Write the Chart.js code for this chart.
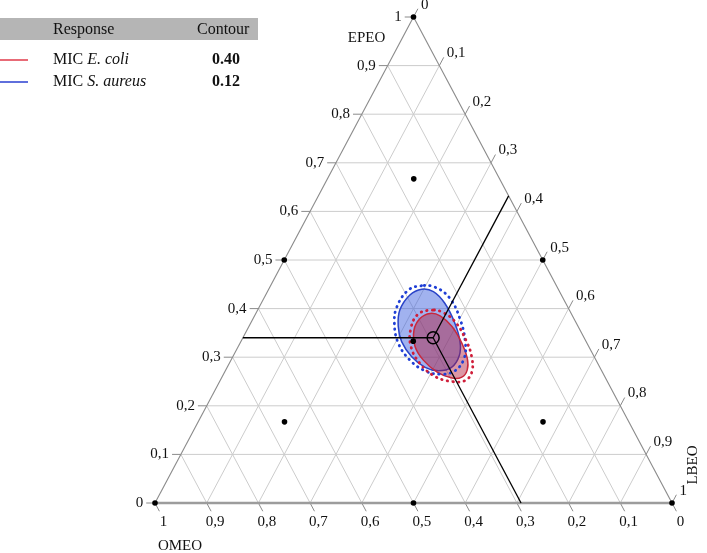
<!DOCTYPE html>
<html>
<head>
<meta charset="utf-8">
<script src="https://cdn.jsdelivr.net/npm/chart.js@4.4.1/dist/chart.umd.min.js"></script>
<style>
html,body{margin:0;padding:0;background:#fff;}
canvas{display:block;}
</style>
</head>
<body>
<canvas id="c" width="707" height="553"></canvas>
<script>
// ---------- DATA ----------
const tickValues = [0, 0.1, 0.2, 0.3, 0.4, 0.5, 0.6, 0.7, 0.8, 0.9, 1];
const tickLabels = ['0', '0,1', '0,2', '0,3', '0,4', '0,5', '0,6', '0,7', '0,8', '0,9', '1'];
const axisTitles = { OMEO: 'OMEO', EPEO: 'EPEO', LBEO: 'LBEO' };

// simplex-centroid design points (fractions of each component)
const designOMEO = [1, 0, 0, 0.5, 0.5, 0, 0.667, 0.167, 0.167, 0.333];
const designEPEO = [0, 1, 0, 0.5, 0, 0.5, 0.167, 0.667, 0.167, 0.333];
const designLBEO = [0, 0, 1, 0, 0.5, 0.5, 0.167, 0.167, 0.667, 0.333];

// optimum mixture
const optimumOMEO = [0.292];
const optimumEPEO = [0.340];
const optimumLBEO = [0.368];

// legend table
const responseNames = [['MIC ', 'E. coli'], ['MIC ', 'S. aureus']];
const contourLevels = ['0.40', '0.12'];

// contour boundaries, as [EPEO, LBEO]
const ecoliContour = [
  [0.390, 0.337], [0.380, 0.323], [0.356, 0.323], [0.322, 0.342], [0.294, 0.372],
  [0.270, 0.410], [0.257, 0.446], [0.259, 0.464], [0.274, 0.467], [0.298, 0.455],
  [0.329, 0.429], [0.363, 0.393], [0.385, 0.359]
];
const ecoliBand = [
  [0.397, 0.339], [0.389, 0.315], [0.360, 0.315], [0.322, 0.334], [0.287, 0.369],
  [0.260, 0.412], [0.250, 0.449], [0.252, 0.474], [0.270, 0.478], [0.301, 0.462],
  [0.335, 0.434], [0.373, 0.394], [0.392, 0.361]
];
const aureusContour = [
  [0.440, 0.296], [0.428, 0.279], [0.397, 0.275], [0.363, 0.289], [0.332, 0.311],
  [0.301, 0.346], [0.279, 0.383], [0.272, 0.412], [0.279, 0.434], [0.303, 0.437],
  [0.332, 0.424], [0.370, 0.395], [0.411, 0.355], [0.435, 0.321]
];
const aureusBand = [
  [0.447, 0.292], [0.438, 0.271], [0.404, 0.266], [0.370, 0.278], [0.329, 0.306],
  [0.294, 0.346], [0.272, 0.386], [0.265, 0.419], [0.272, 0.444], [0.298, 0.449],
  [0.332, 0.434], [0.377, 0.402], [0.421, 0.360], [0.444, 0.320]
];

// ---------- HELPERS ----------
const FONT = '"Liberation Serif", "Times New Roman", serif';
function P(E, L) { return { x: L + E / 2, y: E }; }
function pts(arr) { return arr.map(([E, L]) => P(E, L)); }

const optE = optimumEPEO[0], optL = optimumLBEO[0], optO = optimumOMEO[0];
const designData = designEPEO.map((E, i) => P(E, designLBEO[i]));

// ---------- PLUGINS ----------
const loopPlugin = {
  id: 'loopPlugin',
  afterDatasetUpdate(chart, args) {
    const ds = chart.data.datasets[args.index];
    if (ds.closedLoop && args.meta.dataset) {
      args.meta.dataset._loop = true;
      args.meta.dataset._fullLoop = true;
      args.meta.dataset._pointsUpdated = false;
      args.meta.dataset._segments = undefined;
    }
  }
};

function px(chart, E, L) {
  const p = P(E, L);
  return [chart.scales.x.getPixelForValue(p.x), chart.scales.y.getPixelForValue(p.y)];
}
function seg(ctx, a, b) {
  ctx.beginPath(); ctx.moveTo(a[0], a[1]); ctx.lineTo(b[0], b[1]); ctx.stroke();
}

const TL = 0.017; // tick length (fraction)

const ternaryGrid = {
  id: 'ternaryGrid',
  beforeDatasetsDraw(chart) {
    const ctx = chart.ctx;
    ctx.save();
    ctx.lineWidth = 1;
    ctx.strokeStyle = '#cccccc';
    tickValues.forEach(t => {
      if (t <= 0 || t >= 1) return;
      seg(ctx, px(chart, t, 0), px(chart, t, 1 - t));          // constant EPEO
      seg(ctx, px(chart, 0, t), px(chart, 1 - t, t));          // constant LBEO
      seg(ctx, px(chart, 1 - t, 0), px(chart, 0, 1 - t));      // constant OMEO
    });
    ctx.strokeStyle = '#8a8a8a';
    tickValues.forEach(t => {
      seg(ctx, px(chart, t, 0), px(chart, t, -TL));
      seg(ctx, px(chart, 1 - t, t), px(chart, 1 - t + TL, t));
      seg(ctx, px(chart, 0, 1 - t), px(chart, -TL, 1 - t + TL));
    });
    ctx.strokeStyle = '#8a8a8a';
    ctx.lineWidth = 1.1;
    seg(ctx, px(chart, 0, 0), px(chart, 1, 0));
    seg(ctx, px(chart, 1, 0), px(chart, 0, 1));
    ctx.strokeStyle = '#9c9c9c';
    ctx.lineWidth = 2.6;
    seg(ctx, px(chart, 0, 0), px(chart, 0, 1));
    ctx.restore();
  },
  afterDraw(chart) {
    const ctx = chart.ctx;
    ctx.save();
    ctx.fillStyle = '#111';
    ctx.font = '15px ' + FONT;
    ctx.textAlign = 'right'; ctx.textBaseline = 'middle';
    tickValues.forEach((t, i) => {
      const p = px(chart, t, -TL);
      ctx.fillText(tickLabels[i], p[0] - 3, p[1]);
    });
    ctx.textAlign = 'left'; ctx.textBaseline = 'middle';
    tickValues.forEach((t, i) => {
      const p = px(chart, 1 - t + TL, t);
      ctx.fillText(tickLabels[i], p[0] + 3, p[1] - 4);
    });
    ctx.textAlign = 'center'; ctx.textBaseline = 'middle';
    tickValues.forEach((t, i) => {
      const p = px(chart, -TL, 1 - t + TL);
      ctx.fillText(tickLabels[i], p[0] + 4, p[1] + 11);
    });
    ctx.font = '15px ' + FONT;
    ctx.textAlign = 'center'; ctx.textBaseline = 'middle';
    const top = px(chart, 1, 0);
    ctx.fillText(axisTitles.EPEO, top[0] - 47, top[1] + 21);
    const bl = px(chart, 0, 0);
    ctx.fillText(axisTitles.OMEO, bl[0] + 25, bl[1] + 43);
    const br = px(chart, 0, 1);
    ctx.save();
    ctx.translate(br[0] + 21, br[1] - 38);
    ctx.rotate(-Math.PI / 2);
    ctx.fillText(axisTitles.LBEO, 0, 0);
    ctx.restore();

    // legend table
    ctx.fillStyle = '#b5b5b5';
    ctx.fillRect(0, 18, 258, 22);
    ctx.fillStyle = '#111';
    ctx.font = '16px ' + FONT;
    ctx.textAlign = 'left'; ctx.textBaseline = 'middle';
    ctx.fillText('Response', 53, 29.5);
    ctx.fillText('Contour', 197, 29.5);
    const legendColors = ['#e03a4a', '#2a3fd0'];
    responseNames.forEach((nm, i) => {
      const y = 60 + i * 22;
      ctx.strokeStyle = legendColors[i];
      ctx.lineWidth = 1.5;
      seg(ctx, [0, y], [28, y]);
      ctx.font = '16px ' + FONT;
      ctx.fillText(nm[0], 53, y);
      const w = ctx.measureText(nm[0]).width;
      ctx.font = 'italic 16px ' + FONT;
      ctx.fillText(nm[1], 53 + w, y);
      ctx.font = 'bold 16px ' + FONT;
      ctx.fillText(contourLevels[i], 212, y);
    });
    ctx.restore();
  }
};

// ---------- CHART ----------
const lineBase = { showLine: true, pointRadius: 0, pointHoverRadius: 0, tension: 0, clip: false };
const datasets = [
  { label: 'optimum', data: [P(optE, optL)], pointRadius: 6, pointBorderWidth: 1.5, clip: false,
    pointBorderColor: '#000', pointBackgroundColor: 'rgba(0,0,0,0)', showLine: false },
  { label: 'design', data: designData, pointRadius: 2.8, pointBorderWidth: 0, clip: false,
    pointBackgroundColor: '#000', showLine: false },
  Object.assign({ label: 'cross EPEO', data: [P(optE, 0), P(optE, optL)], borderColor: '#000', borderWidth: 1.3 }, lineBase),
  Object.assign({ label: 'cross LBEO', data: [P(optE, optL), P(1 - optL, optL)], borderColor: '#000', borderWidth: 1.3 }, lineBase),
  Object.assign({ label: 'cross OMEO', data: [P(optE, optL), P(0, 1 - optO)], borderColor: '#000', borderWidth: 1.3 }, lineBase),
  Object.assign({}, lineBase, { label: 'E. coli band', data: pts(ecoliBand), closedLoop: true, tension: 0.4,
    borderColor: '#d01e3a', borderWidth: 2.8, borderDash: [0.5, 5.2], borderCapStyle: 'round', fill: false }),
  Object.assign({}, lineBase, { label: 'S. aureus band', data: pts(aureusBand), closedLoop: true, tension: 0.4,
    borderColor: '#1f3fd6', borderWidth: 2.8, borderDash: [0.5, 5.2], borderCapStyle: 'round', fill: false }),
  Object.assign({}, lineBase, { label: 'MIC E. coli', data: pts(ecoliContour), closedLoop: true, tension: 0.4,
    borderColor: '#c8283c', borderWidth: 1.5, fill: 'shape', backgroundColor: 'rgba(175,25,55,0.45)' }),
  Object.assign({}, lineBase, { label: 'MIC S. aureus', data: pts(aureusContour), closedLoop: true, tension: 0.4,
    borderColor: '#2a44c8', borderWidth: 1.5, fill: 'shape', backgroundColor: 'rgba(55,92,222,0.47)' })
];

new Chart(document.getElementById('c'), {
  type: 'scatter',
  data: { datasets },
  options: {
    responsive: false,
    animation: false,
    events: [],
    layout: { padding: { left: 155, right: 35, top: 17, bottom: 50 } },
    scales: {
      x: { type: 'linear', min: 0, max: 1, display: false },
      y: { type: 'linear', min: 0, max: 1, display: false }
    },
    plugins: { legend: { display: false }, tooltip: { enabled: false } }
  },
  plugins: [loopPlugin, ternaryGrid]
});
</script>
</body>
</html>
